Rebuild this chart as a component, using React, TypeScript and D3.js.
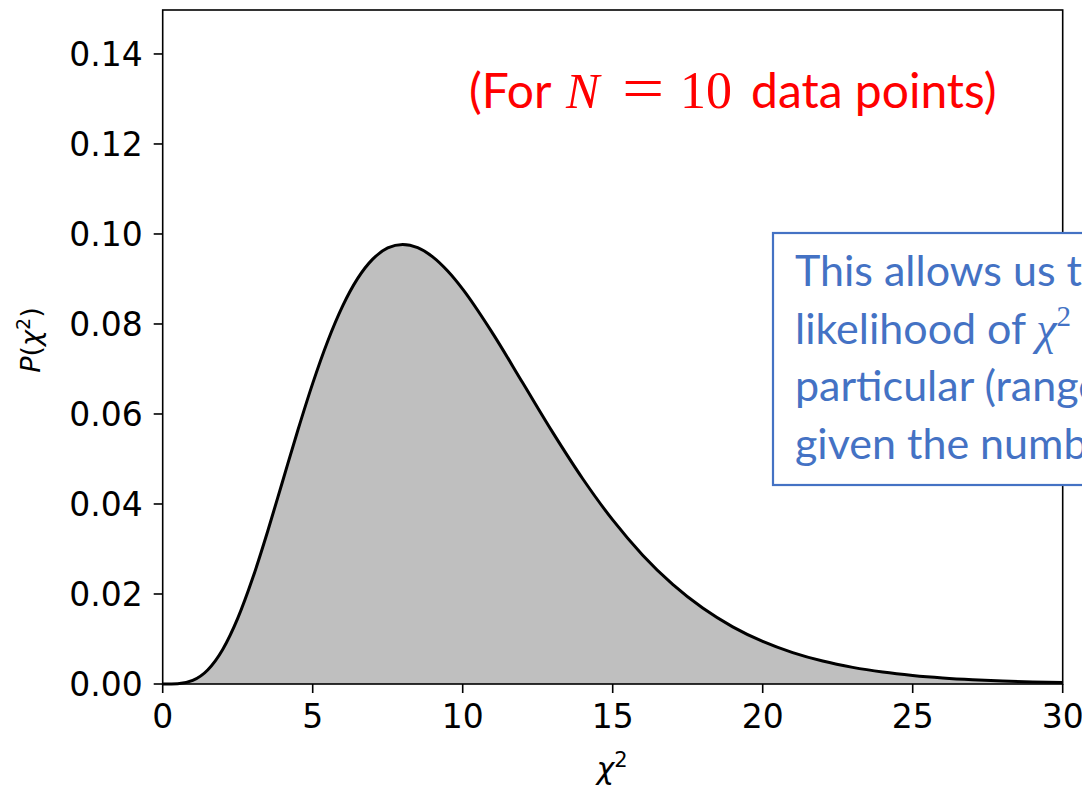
import React from "react";
import * as d3 from "d3";

const chi2Values = [0, 0.5, 1, 1.5, 2, 2.5, 3, 3.5, 4, 4.5, 5, 5.5, 6, 6.5, 7, 7.5, 8, 8.5, 9, 9.5, 10, 11, 12, 13, 14, 15, 16, 17, 18, 19, 20, 21, 22, 23, 24, 25, 26, 27, 28, 29, 30];
const probValues = [0, 0.0000634, 0.00079, 0.003114, 0.007664, 0.014572, 0.023533, 0.033955, 0.045112, 0.056276, 0.066801, 0.076169, 0.084016, 0.090122, 0.094406, 0.09689, 0.097683, 0.096951, 0.094904, 0.091756, 0.087734, 0.07791, 0.066928, 0.05591, 0.045613, 0.036458, 0.028626, 0.022128, 0.016869, 0.012702, 0.009458, 0.006973, 0.005094, 0.003691, 0.002654, 0.001896, 0.001345, 0.000949, 0.000666, 0.000464, 0.000323];
const xTicks = [0, 5, 10, 15, 20, 25, 30];
const yTicks = [0, 0.02, 0.04, 0.06, 0.08, 0.1, 0.12, 0.14];
const boxLines = ["This allows us to determine the", "likelihood of ", "particular (range of) values", "given the number of data points"];

export default function App() {
  const W = 1082, H = 786;
  const left = 162.7, right = 1062.7, top = 10, bottom = 684;
  const x = d3.scaleLinear().domain([0, 30]).range([left, right]);
  const y = d3.scaleLinear().domain([0, 0.14977]).range([bottom, top]);
  const data = chi2Values.map((v, i) => [v, probValues[i]] as [number, number]);
  const line = d3.line<[number, number]>().x(d => x(d[0])).y(d => y(d[1])).curve(d3.curveMonotoneX);
  const area = d3.area<[number, number]>().x(d => x(d[0])).y0(y(0)).y1(d => y(d[1])).curve(d3.curveMonotoneX);
  const tickFont = "DejaVu Sans";
  const blue = "#4472C4";
  const bodyFont = "Lato, 'Open Sans', sans-serif";
  const mathFont = "'Liberation Serif', serif";
  return (
    <svg width={W} height={H} style={{ position: "absolute", left: 0, top: 0, background: "#fff" }}>
      <rect x={0} y={0} width={W} height={H} fill="#fff" />
      <path d={area(data) || ""} fill="#bfbfbf" stroke="none" />
      <path d={line(data) || ""} fill="none" stroke="#000" strokeWidth={3} />
      <rect x={left} y={top} width={right - left} height={bottom - top} fill="none" stroke="#000" strokeWidth={1.6} />
      {yTicks.map(t => (
        <g key={"y" + t}>
          <line x1={left - 9} x2={left} y1={y(t)} y2={y(t)} stroke="#000" strokeWidth={1.6} />
          <text x={left - 20} y={y(t)} dy="0.36em" textAnchor="end" fontFamily={tickFont} fontSize={33} fill="#000">{t.toFixed(2)}</text>
        </g>
      ))}
      {xTicks.map(t => (
        <g key={"x" + t}>
          <line x1={x(t)} x2={x(t)} y1={bottom} y2={bottom + 9} stroke="#000" strokeWidth={1.6} />
          <text x={x(t)} y={728} textAnchor="middle" fontFamily={tickFont} fontSize={33} fill="#000">{t}</text>
        </g>
      ))}
      <text x={612} y={779} textAnchor="middle" fontFamily={tickFont} fontSize={30} fill="#000">
        <tspan fontStyle="italic">χ</tspan><tspan dy={-12} fontSize={21}>2</tspan>
      </text>
      <text transform="translate(40,340) rotate(-90)" textAnchor="middle" fontFamily={tickFont} fontSize={27} fill="#000">
        <tspan fontStyle="italic">P</tspan><tspan>(</tspan><tspan fontStyle="italic">χ</tspan><tspan dy={-10} fontSize={19}>2</tspan><tspan dy={10}>)</tspan>
      </text>
      <g fill="#ff0000">
        <text x={469} y={108} fontFamily={bodyFont} fontSize={48}>(For</text>
        <text x={566} y={108} fontFamily={mathFont} fontStyle="italic" fontSize={50}>N</text>
        <text x={622} y={108} fontFamily={mathFont} fontSize={60} transform="translate(622,108) scale(1.25,1) translate(-622,-108)">=</text>
        <text x={680} y={108} fontFamily={mathFont} fontSize={52}>10</text>
        <text x={751} y={108} fontFamily={bodyFont} fontSize={48}>data points)</text>
      </g>
      <rect x={773} y={233} width={400} height={252} fill="#fff" stroke={blue} strokeWidth={2.2} />
      {boxLines.map((l, i) => (
        <text key={i} x={795} y={286 + i * 57.5} fontFamily={bodyFont} fontSize={43} fill={blue}>
          {l}
          {i === 1 ? <><tspan fontFamily={mathFont} fontStyle="italic" fontSize={46}>χ</tspan><tspan dy={-18} fontSize={29} fontFamily={mathFont}>2</tspan><tspan dy={18}> values in a</tspan></> : null}
        </text>
      ))}
    </svg>
  );
}
